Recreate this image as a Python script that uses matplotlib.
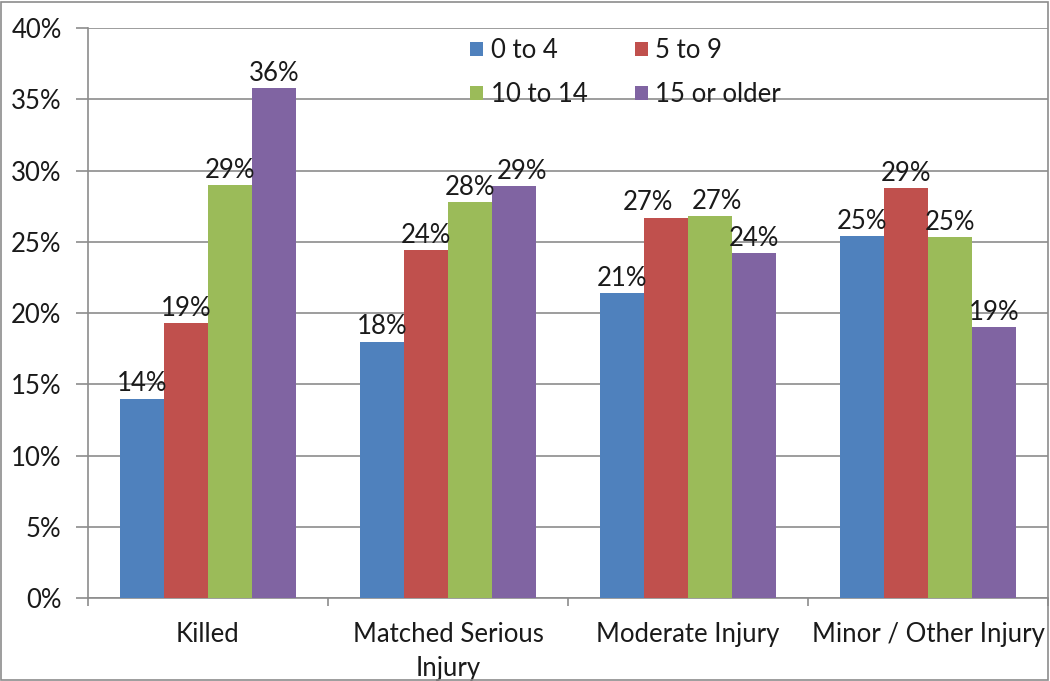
import matplotlib
matplotlib.use("Agg")
import matplotlib.pyplot as plt
from matplotlib.patches import Rectangle
import numpy as np

categories = ["Killed", "Matched Serious\nInjury", "Moderate Injury", "Minor / Other Injury"]
series_names = ["0 to 4", "5 to 9", "10 to 14", "15 or older"]
age_0_4 = [14.0, 18.0, 21.4, 25.4]
age_5_9 = [19.3, 24.4, 26.7, 28.8]
age_10_14 = [29.0, 27.8, 26.8, 25.3]
age_15_plus = [35.8, 28.9, 24.2, 19.0]
yticks = [0, 5, 10, 15, 20, 25, 30, 35, 40]
colors = ["#4F81BD", "#C0504D", "#9BBB59", "#8064A2"]

series = [age_0_4, age_5_9, age_10_14, age_15_plus]

# horizontal nudges (points) for data labels that would otherwise collide
label_nudge = {(1, 2): -13, (2, 2): 5, (3, 1): 6}

plt.rcParams['font.family'] = ['Lato', 'DejaVu Sans']
FS = 18.5
TXT = "#1a1a1a"

fig = plt.figure(figsize=(10.5, 6.81), dpi=100)
fig.patches.append(Rectangle((0.001, 0.002), 0.997, 0.995, transform=fig.transFigure,
                             fill=False, edgecolor="#8c8c8c", linewidth=1.2))
ax = fig.add_axes([88/1050, 1-598/681, 960/1050, 570/681])

x = np.arange(len(categories))
w = 0.183
handles = []
for i, (vals, c, name) in enumerate(zip(series, colors, series_names)):
    pos = x + (i - 1.5) * w
    bars = ax.bar(pos, vals, width=w, color=c, label=name, zorder=3)
    handles.append(bars)
    for j, (b, v) in enumerate(zip(bars, vals)):
        ax.annotate(f"{round(v):d}%", (b.get_x() + b.get_width()/2, v),
                    xytext=(label_nudge.get((i, j), 0), 1.5), textcoords="offset points",
                    ha="center", va="bottom", fontsize=FS, color=TXT, zorder=4)

ax.set_xlim(-0.5, 3.5)
ax.set_ylim(0, 40)
ax.set_yticks(yticks)
ax.set_yticklabels([f"{t}%" for t in yticks], fontsize=FS, color=TXT)
ax.yaxis.grid(True, color="#8c8c8c", linewidth=1.2, zorder=0)
ax.set_axisbelow(True)
ax.tick_params(axis="y", length=9, color="#8c8c8c", width=1.2, pad=10)

ax.set_xticks([-0.5, 0.5, 1.5, 2.5, 3.5])
ax.set_xticklabels([])
ax.tick_params(axis="x", length=6, color="#8c8c8c", width=1.2)
ax.set_xticks(x, minor=True)
ax.set_xticklabels(categories, minor=True, fontsize=FS, color=TXT, linespacing=1.45)
ax.tick_params(axis="x", which="minor", length=0, pad=17)

for s in ["top", "right"]:
    ax.spines[s].set_visible(False)
for s in ["left", "bottom"]:
    ax.spines[s].set_color("#8c8c8c")
    ax.spines[s].set_linewidth(1.2)

order = [0, 2, 1, 3]
leg = ax.legend([handles[k] for k in order], [series_names[k] for k in order],
                ncol=2, loc="upper left", bbox_to_anchor=(382/960, 1 - 10/570),
                frameon=False, fontsize=FS, handlelength=0.5, handleheight=0.5,
                handletextpad=0.3, columnspacing=1.85, labelspacing=0.75,
                borderpad=0, borderaxespad=0)
for t in leg.get_texts():
    t.set_color(TXT)

fig.savefig("out.png", dpi=100)
